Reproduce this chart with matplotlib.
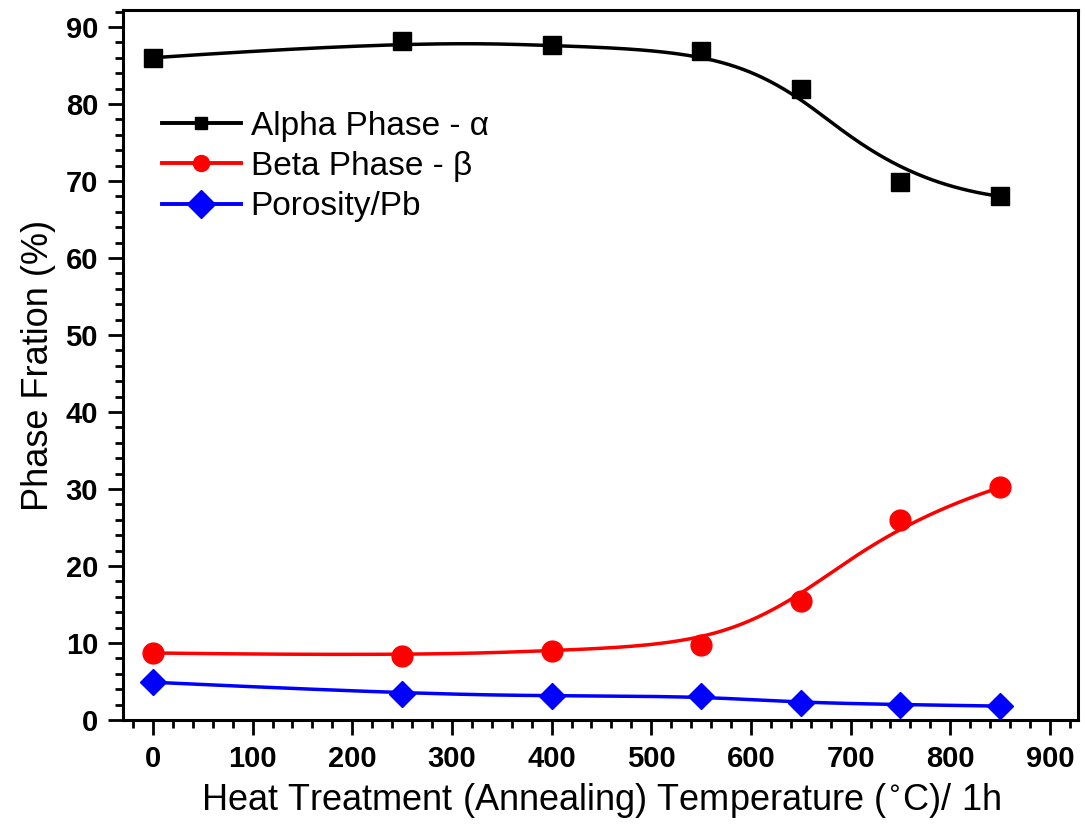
import numpy as np
import matplotlib.pyplot as plt
from matplotlib.ticker import MultipleLocator
from matplotlib.lines import Line2D

# Dati
temp = [0, 250, 400, 550, 650, 750, 850]
alpha = [86.0, 88.2, 87.6, 86.9, 82.0, 69.8, 68.0]
beta = [8.7, 8.3, 9.0, 9.8, 15.5, 26.0, 30.2]
poros = [4.9, 3.4, 3.1, 3.1, 2.2, 2.0, 1.8]


def bspline(xs, ys, n=400, k=3):
    """B-spline cubica clampata con i punti come punti di controllo."""
    P = np.column_stack([xs, ys]).astype(float)
    m = len(P)
    inner = np.linspace(0, 1, m - k + 1)[1:-1]
    knots = np.concatenate([np.zeros(k + 1), inner, np.ones(k + 1)])
    u = np.linspace(0, 1, n)
    u[-1] -= 1e-9
    # Cox-de Boor
    N = np.zeros((n, len(knots) - 1))
    for i in range(len(knots) - 1):
        N[:, i] = (u >= knots[i]) & (u < knots[i + 1])
    for d in range(1, k + 1):
        Nn = np.zeros((n, len(knots) - 1 - d))
        for i in range(len(knots) - 1 - d):
            a = knots[i + d] - knots[i]
            b = knots[i + d + 1] - knots[i + 1]
            t1 = (u - knots[i]) / a * N[:, i] if a > 0 else 0
            t2 = (knots[i + d + 1] - u) / b * N[:, i + 1] if b > 0 else 0
            Nn[:, i] = t1 + t2
        N = Nn
    C = N @ P
    return C[:, 0], C[:, 1]


plt.rcParams['font.family'] = 'Liberation Sans'

fig = plt.figure(figsize=(10.85, 8.25), dpi=100)
ax = fig.add_axes([0.1134, 0.1273, 0.88, 0.8606])

# (valori, colore, marker, dim. nel grafico, dim. in legenda, etichetta)
series = [
    (alpha, 'black', 's', 13.5, 9, 'Alpha Phase - α'),
    (beta, 'red', 'o', 15, 11.5, 'Beta Phase - β'),
    (poros, 'blue', 'D', 13, 14, 'Porosity/Pb'),
]
handles = []
for ys, col, mk, ms, ms_leg, lab in series:
    cx, cy = bspline(temp, ys)
    ax.plot(cx, cy, color=col, lw=2.5, zorder=2)
    ax.plot(temp, ys, ls='none', marker=mk, ms=ms, color=col, zorder=3)
    handles.append(Line2D([], [], color=col, lw=2.8, marker=mk, ms=ms_leg, label=lab))

ax.set_xlim(-30, 928)
ax.set_ylim(0, 92.2)
ax.xaxis.set_major_locator(MultipleLocator(100))
ax.xaxis.set_minor_locator(MultipleLocator(20))
ax.yaxis.set_major_locator(MultipleLocator(10))
ax.yaxis.set_minor_locator(MultipleLocator(2))
ax.tick_params(which='both', direction='out', width=2, top=False, right=False)
ax.tick_params(which='major', length=11, labelsize=21, pad=7)
ax.tick_params(which='minor', length=6)
for lb in ax.get_xticklabels() + ax.get_yticklabels():
    lb.set_fontweight('bold')
for sp in ax.spines.values():
    sp.set_linewidth(2.2)

ax.set_xlabel('Heat Treatment (Annealing) Temperature ($^{\\circ}$C)/ 1h', fontsize=26, labelpad=6)
ax.set_ylabel('Phase Fration (%)', fontsize=26, labelpad=7)

ax.legend(handles=handles, loc='upper left', bbox_to_anchor=(0.041, 0.858), frameon=False,
          fontsize=24, handlelength=2.35, handletextpad=0.3, labelspacing=0.28,
          borderpad=0, borderaxespad=0)

fig.savefig('out.png', dpi=100)
